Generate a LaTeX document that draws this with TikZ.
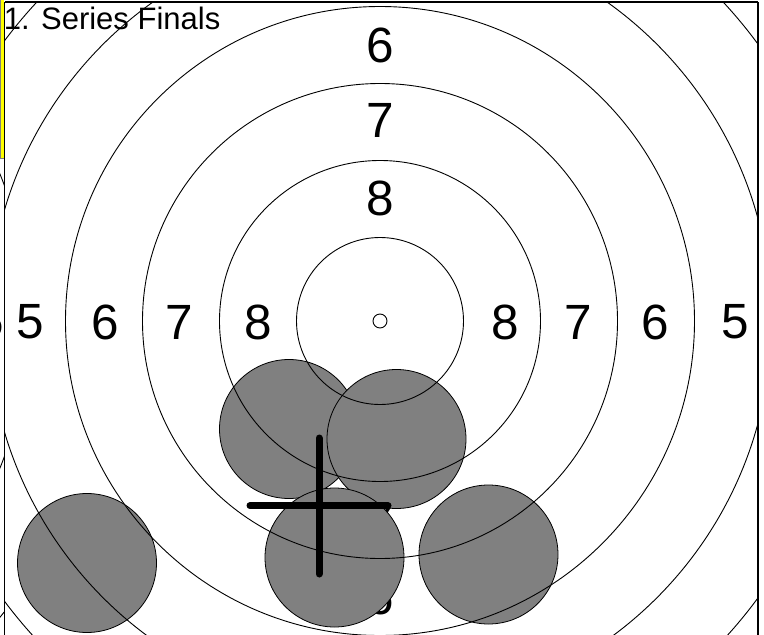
\documentclass[tikz,border=0pt]{standalone}
\usepackage{fontspec}
\setmainfont{Liberation Sans}
\definecolor{shotgray}{HTML}{808080}
\definecolor{stripyellow}{HTML}{FFFF00}
\begin{document}
\begin{tikzpicture}[x=1pt,y=-1pt,
  ring/.style={draw=black,line width=0.9pt},
  shot/.style={circle,draw=black,fill=shotgray,line width=0.8pt,minimum size=139pt,inner sep=0pt},
  ringlabel/.style={font=\fontsize{49.5}{49.5}\selectfont,inner sep=0pt},
  titletext/.style={font=\fontsize{31}{31}\selectfont,inner sep=0pt,anchor=base west},
  cross/.style={line width=7pt,line cap=round},
  framebox/.style={draw=black,line width=1.5pt}]
\useasboundingbox (0,0) rectangle (764,635);
\fill[white] (0,0) rectangle (764,635);
% adjacent panel (clipped sliver at the left)
\begin{scope}
  \clip (0,0) rectangle (3.8,635);
  \coordinate (oc) at (-363,321);
  \foreach \r in {391.5,468.5} {\draw[ring] (oc) circle[radius=\r];}
  \node[ringlabel] (o5) at (-10,322) {5};
  \fill[stripyellow,draw=gray,line width=0.5pt] (0,-1) rectangle (3.8,158);
\end{scope}
% target centre
\coordinate (c) at (380,321);
% ring labels
\node[ringlabel] (t6) at (380,45) {6};
\node[ringlabel] (t7) at (380,120) {7};
\node[ringlabel] (t8) at (380,198) {8};
\node[ringlabel] (l5) at (30,322) {5};
\node[ringlabel] (l6) at (105,322) {6};
\node[ringlabel] (l7) at (179,322) {7};
\node[ringlabel] (l8) at (258,322) {8};
\node[ringlabel] (r8) at (505,322) {8};
\node[ringlabel] (r7) at (578,322) {7};
\node[ringlabel] (r6) at (655,322) {6};
\node[ringlabel] (r5) at (735,322) {5};
\node[ringlabel] (b8) at (380,444) {8};
\node[ringlabel] (b7) at (380,521) {7};
\node[ringlabel] (b6) at (380,597) {6};
% shots
\node[shot] (s5) at (87,563) {};
\node[shot] (s1) at (289,429) {};
\node[shot] (s2) at (396.5,439) {};
\node[shot] (s3) at (334.5,557.5) {};
\node[shot] (s4) at (488.5,554.5) {};
% rings
\begin{scope}
  \clip (4.5,2) rectangle (758,640);
  \foreach \r in {83.5,160.5,237.5,314.5,391.5,468.5} {\draw[ring] (c) circle[radius=\r];}
\end{scope}
\node[circle,draw=black,line width=0.9pt,minimum size=14pt,inner sep=0pt] (dot) at (c) {};
% title
\node[titletext] (title) at (3.6,29.5) {1. Series Finals};
% crosshair
\coordinate (ct) at (319,438);
\coordinate (cb) at (319,574);
\coordinate (cl) at (250,505.7);
\coordinate (cr) at (388,505.7);
\draw[cross] (ct) -- (cb);
\draw[cross] (cl) -- (cr);
% frame
\draw[framebox] (4.5,2) -- (758,2);
\draw[framebox] (4.5,2) -- (4.5,640);
\draw[framebox] (758,2) -- (758,640);
\end{tikzpicture}
\end{document}
